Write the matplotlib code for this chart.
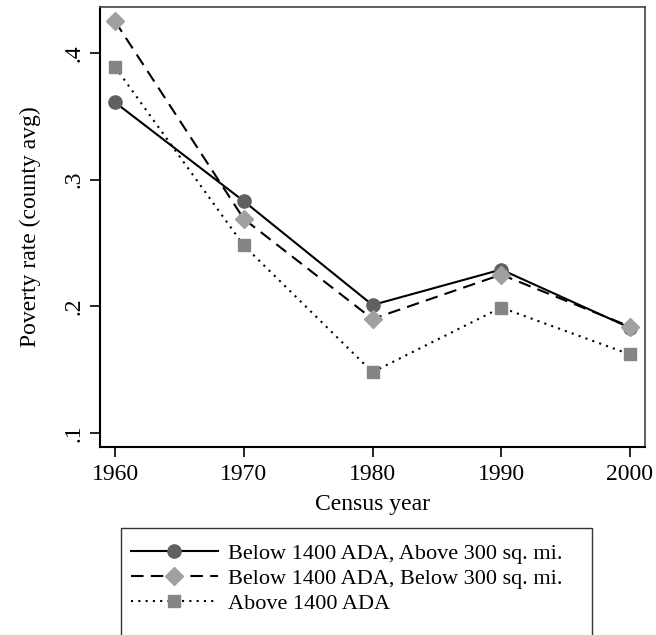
import matplotlib
matplotlib.use("Agg")
import matplotlib.pyplot as plt
from matplotlib.patches import Rectangle

years = [1960, 1970, 1980, 1990, 2000]
below_above300 = [0.361, 0.283, 0.201, 0.229, 0.183]
below_below300 = [0.425, 0.269, 0.190, 0.225, 0.184]
above1400 = [0.389, 0.248, 0.148, 0.199, 0.162]
labels = ["Below 1400 ADA, Above 300 sq. mi.",
          "Below 1400 ADA, Below 300 sq. mi.",
          "Above 1400 ADA"]
yticks = [0.1, 0.2, 0.3, 0.4]
yticklabels = [".1", ".2", ".3", ".4"]

plt.rcParams['font.family'] = ['Liberation Serif', 'DejaVu Serif']

W, H = 656, 635
fig = plt.figure(figsize=(W/100, H/100), dpi=100)
ax = fig.add_axes([100/W, 1 - 447/H, 545/W, 440/H])

ax.plot(years, below_above300, color='black', lw=1.5, ls='-',
        marker='o', ms=9.5, mfc='#606060', mec='#606060', label=labels[0], zorder=3)
ax.plot(years, below_below300, color='black', lw=1.5, ls=(0, (6, 3.5)),
        marker='D', ms=9, mfc='#a0a0a0', mec='#a0a0a0', label=labels[1], zorder=3)
ax.plot(years, above1400, color='black', lw=1.5, ls=(0, (1, 2.5)),
        marker='s', ms=8.5, mfc='#858585', mec='#858585', label=labels[2], zorder=3)

ax.set_xlim(1958.83, 2001.17)
ax.set_ylim(0.0889, 0.4363)
ax.set_xticks(years)
ax.set_yticks(yticks)
ax.set_yticklabels(yticklabels, rotation=90, va='center')
ax.tick_params(axis='both', direction='out', length=7.2, width=1.2, labelsize=17, colors='black')
ax.tick_params(axis='y', pad=4)
ax.tick_params(axis='x', pad=5)
ax.set_xlabel("Census year", fontsize=17, labelpad=6.5)
ax.set_ylabel("Poverty rate (county avg)", fontsize=17, labelpad=16)
for s in ['left', 'bottom']:
    ax.spines[s].set_linewidth(1.5)
    ax.spines[s].set_color('black')
for s in ['top', 'right']:
    ax.spines[s].set_linewidth(1.2)
    ax.spines[s].set_color('#444444')

# legend frame (extends past the bottom edge, as in the reference)
fig.patches.append(Rectangle((121/W, -10/H), (592-121)/W, (H - 528 + 10)/H,
                             transform=fig.transFigure, fill=False,
                             edgecolor='#333333', linewidth=1.0))
leg = fig.legend(loc='upper left', bbox_to_anchor=(121/W, 1 - 533/H),
                 frameon=False, fontsize=16, handlelength=3.9, handletextpad=0.45,
                 labelspacing=0.2, borderpad=0.45, borderaxespad=0)

fig.savefig("out.png", dpi=100)
